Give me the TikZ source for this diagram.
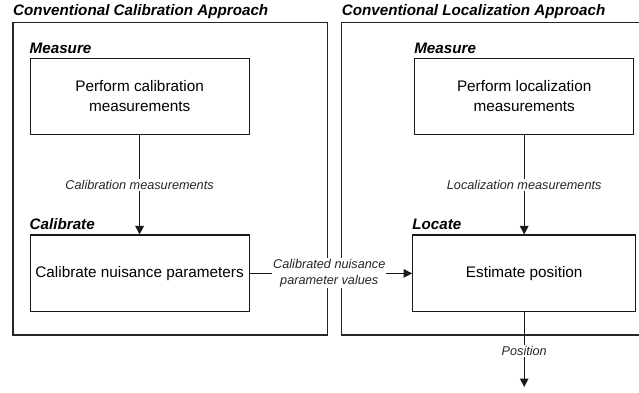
\documentclass[tikz,border=0pt]{standalone}
\usepackage{fontspec}
\setmainfont{Liberation Sans}
\usetikzlibrary{arrows.meta}

\tikzset{
  frame/.style={draw=black!85, line width=1.1pt},
  stepbox/.style={draw=black!90, line width=1.2pt, minimum width=219pt, align=center,
    font=\fontsize{15.3}{20}\selectfont, inner sep=0pt},
  heading/.style={font=\fontsize{15.2}{17}\bfseries\itshape\selectfont, inner sep=0pt, anchor=base west},
  stagelabel/.style={font=\fontsize{15.2}{17}\bfseries\itshape\selectfont, inner sep=0pt, anchor=base west},
  flowlabel/.style={font=\fontsize{12.7}{16}\itshape\selectfont, fill=white, inner sep=1.5pt, align=center, text=black!85},
  flow/.style={draw=black!90, line width=1.4pt, -{Triangle[length=8.5pt,width=8.5pt]}},
}

\begin{document}
\begin{tikzpicture}[x=1pt,y=-1pt]
\useasboundingbox (0,0) rectangle (639,393);

% outer frames of the two approaches
\draw[frame] (13,22.5) rectangle (327.5,335);
\draw[frame] (645,22.5) -- (341.7,22.5) -- (341.7,335) -- (645,335);

\node[heading] (calhead) at (13,15.5) {Conventional Calibration Approach};
\node[heading] (lochead) at (341.7,15.5) {Conventional Localization Approach};

% calibration side
\node[stepbox, minimum height=75.6pt] (calmeas) at (139.6,96.5) {Perform calibration\\measurements};
\node[stepbox, minimum height=76.7pt] (calib) at (139.6,273.4) {Calibrate nuisance parameters};
\node[stagelabel] (calmeaslbl) at (calmeas.north west) [yshift=4.5pt] {Measure};
\node[stagelabel] (caliblbl) at (calib.north west) [yshift=4.5pt] {Calibrate};

% localization side
\node[stepbox, minimum height=75.6pt] (locmeas) at (524.2,96.5) {Perform localization\\measurements};
\node[stepbox, minimum height=76.7pt, minimum width=223pt] (locate) at (524.2,273.4) {Estimate position};
\node[stagelabel] (locmeaslbl) at (locmeas.north west) [yshift=4.5pt] {Measure};
\node[stagelabel] (locatelbl) at (locate.north west) [yshift=4.5pt] {Locate};

\coordinate (out) at (524.2,387);

% connectors
\draw[flow] (calmeas) -- node[flowlabel, pos=0.5] {Calibration measurements} (calib);
\draw[flow] (locmeas) -- node[flowlabel, pos=0.5] {Localization measurements} (locate);
\draw[flow] (calib) -- node[flowlabel, pos=0.49, inner sep=1pt] {Calibrated nuisance\\parameter values} (locate);
\draw[flow] (locate) -- node[flowlabel, pos=0.52] {Position} (out);
\end{tikzpicture}
\end{document}
